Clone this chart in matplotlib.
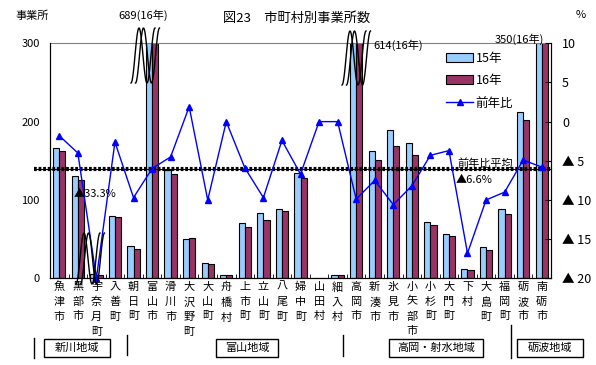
import numpy as np
import matplotlib
matplotlib.use('Agg')
import matplotlib.pyplot as plt
from matplotlib.patches import Patch, Rectangle
from matplotlib.lines import Line2D
import matplotlib.transforms as mtransforms

plt.rcParams['font.family'] = ['Noto Sans CJK JP', 'DejaVu Sans']
plt.rcParams['lines.scale_dashes'] = False

# 市町村名
towns = ['魚津市', '黒部市', '宇奈月町', '入善町', '朝日町', '富山市', '滑川市', '大沢野町',
         '大山町', '舟橋村', '上市町', '立山町', '八尾町', '婦中町', '山田村', '細入村',
         '高岡市', '新湊市', '氷見市', '小矢部市', '小杉町', '大門町', '下村', '大島町',
         '福岡町', '砺波市', '南砺市']
# 事業所数 (15年, 16年)
y15 = [166, 130, 6, 80, 41, 733, 138, 50, 20, 4, 70, 83, 88, 135, 1, 4,
       681, 162, 189, 173, 72, 56, 12, 40, 89, 212, 372]
y16 = [163, 125, 4, 78, 37, 689, 133, 51, 18, 4, 66, 74, 86, 128, 1, 4,
       614, 151, 169, 158, 68, 54, 10, 36, 82, 202, 350]
# 前年比 (%)
ratio = [-1.8, -4.0, -33.3, -2.6, -9.7, -6.0, -4.5, 1.9, -10.0, 0.0, -5.9, -9.7,
         -2.4, -6.7, 0.0, 0.0, -9.9, -7.5, -10.6, -8.2, -4.3, -3.7, -16.8, -10.0,
         -9.0, -4.9, -5.8]
avg_line = -6.1
regions = ['新川地域', '富山地域', '高岡・射水地域', '砺波地域']

W, H = 596, 365
fig = plt.figure(figsize=(W / 100, H / 100), dpi=100)
ax = fig.add_axes([50 / W, 1 - 278.3 / H, 501 / W, 235 / H])


def px(x, y):
    return x / W, 1 - y / H


x = np.arange(len(towns))
bw = 0.33
ax.bar(x - bw / 2, y15, bw, color='#99CCFF', edgecolor='black', linewidth=0.8, label='15年')
ax.bar(x + bw / 2, y16, bw, color='#993366', edgecolor='black', linewidth=0.8, label='16年')
ax.set_xlim(-0.5, len(towns) - 0.5)
ax.set_ylim(0, 300)
ax.set_yticks([0, 100, 200, 300])
ax.tick_params(axis='y', length=0, pad=7.5, labelsize=8)
ax.set_xticks(x)
ax.set_xticklabels(['\n'.join(t) for t in towns], fontsize=8, linespacing=1.6, va='top')
ax.tick_params(axis='x', length=0, pad=2.5)
ax.set_xticks(np.arange(len(towns) + 1) - 0.5, minor=True)
ax.tick_params(axis='x', which='minor', direction='in', length=3)
ax.spines['top'].set_color('#808080')

ax2 = ax.twinx()
ax2.plot(x, np.clip(ratio, -20, None), color='#0000FF', linewidth=1,
         marker='^', markersize=5, clip_on=False, zorder=5)
ax2.set_ylim(-20, 10)
ax2.set_yticks([-20, -15, -10, -5, 0, 5, 10])
ax2.set_yticklabels(['▲ 20', '▲ 15', '▲ 10', '▲ 5', '0', '5', '10'], fontsize=9)
ax2.tick_params(axis='y', direction='in', length=4, pad=8)
ax2.spines['top'].set_visible(False)

# 前年比平均
tr = mtransforms.blended_transform_factory(ax2.transAxes, ax2.transData)
ax2.plot([-0.032, 1.0], [avg_line, avg_line], transform=tr, color='black',
         linewidth=0.8, clip_on=False, zorder=4)
ax2.plot([-0.032, 1.0], [avg_line, avg_line], transform=tr, color='black',
         linewidth=3, dashes=(2.0, 1.3), clip_on=False, zorder=4)

# 波線 (省略記号)
def wave(x0, ytop, ybot):
    t = np.linspace(0, 1, 80)
    for off in (0, 4.5):
        xs = x0 + off + 24 * t
        ys = (ytop + ybot) / 2 + (ybot - ytop) / 2 * np.cos(2 * np.pi * 1.5 * t)
        fx, fy = px(xs, ys)
        fig.add_artist(Line2D(fx, fy, color='black', linewidth=1.0, zorder=10))


wave(131, 28, 83)
wave(342, 31, 85)
wave(76, 233, 284)

fs = 8
fig.text(*px(297, 18), '図23　市町村別事業所数', fontsize=9.5, ha='center', va='center')
fig.text(*px(15, 16), '事業所', fontsize=fs, ha='left', va='center')
fig.text(*px(576, 15), '%', fontsize=fs, ha='left', va='center')
fig.text(*px(118, 15), '689(16年)', fontsize=fs, ha='left', va='center')
fig.text(*px(373, 45), '614(16年)', fontsize=fs, ha='left', va='center')
fig.text(*px(495, 39), '350(16年)', fontsize=fs, ha='left', va='center')
fig.text(*px(74, 194), '▲33.3%', fontsize=fs, ha='left', va='center')
fig.text(*px(457, 164), '前年比平均', fontsize=fs, ha='left', va='center')
fig.text(*px(456, 180), '▲6.6%', fontsize=fs, ha='left', va='center')

# 凡例
handles = [Patch(facecolor='#99CCFF', edgecolor='black', linewidth=0.8),
           Patch(facecolor='#993366', edgecolor='black', linewidth=0.8),
           Line2D([0], [0], color='#0000FF', linewidth=1, marker='^', markersize=5)]
fig.legend(handles, ['15年', '16年', '前年比'], loc='upper left',
           bbox_to_anchor=px(437, 43), frameon=False, fontsize=9,
           handlelength=2.2, handletextpad=0.2, labelspacing=0.75, borderpad=0.2)

# 地域区分
for sx, y0, y1 in [(34, 338, 358), (126.5, 335, 355), (342.5, 335, 356), (510.5, 325, 358)]:
    fx0, fy0 = px(sx, y0)
    fx1, fy1 = px(sx, y1)
    fig.add_artist(Line2D([fx0, fx1], [fy0, fy1], color='black', linewidth=1))
for name, (bx0, bx1) in zip(regions, [(44, 110), (216, 278), (389, 483), (517, 583)]):
    lx, ly = px(bx0, 357)
    rx, ty = px(bx1, 339)
    fig.add_artist(Rectangle((lx, ly), rx - lx, ty - ly, transform=fig.transFigure,
                             facecolor='white', edgecolor='black', linewidth=1))
    fig.text((lx + rx) / 2, (ly + ty) / 2, name, fontsize=fs, ha='center', va='center')

fig.savefig('out.png', dpi=100)
